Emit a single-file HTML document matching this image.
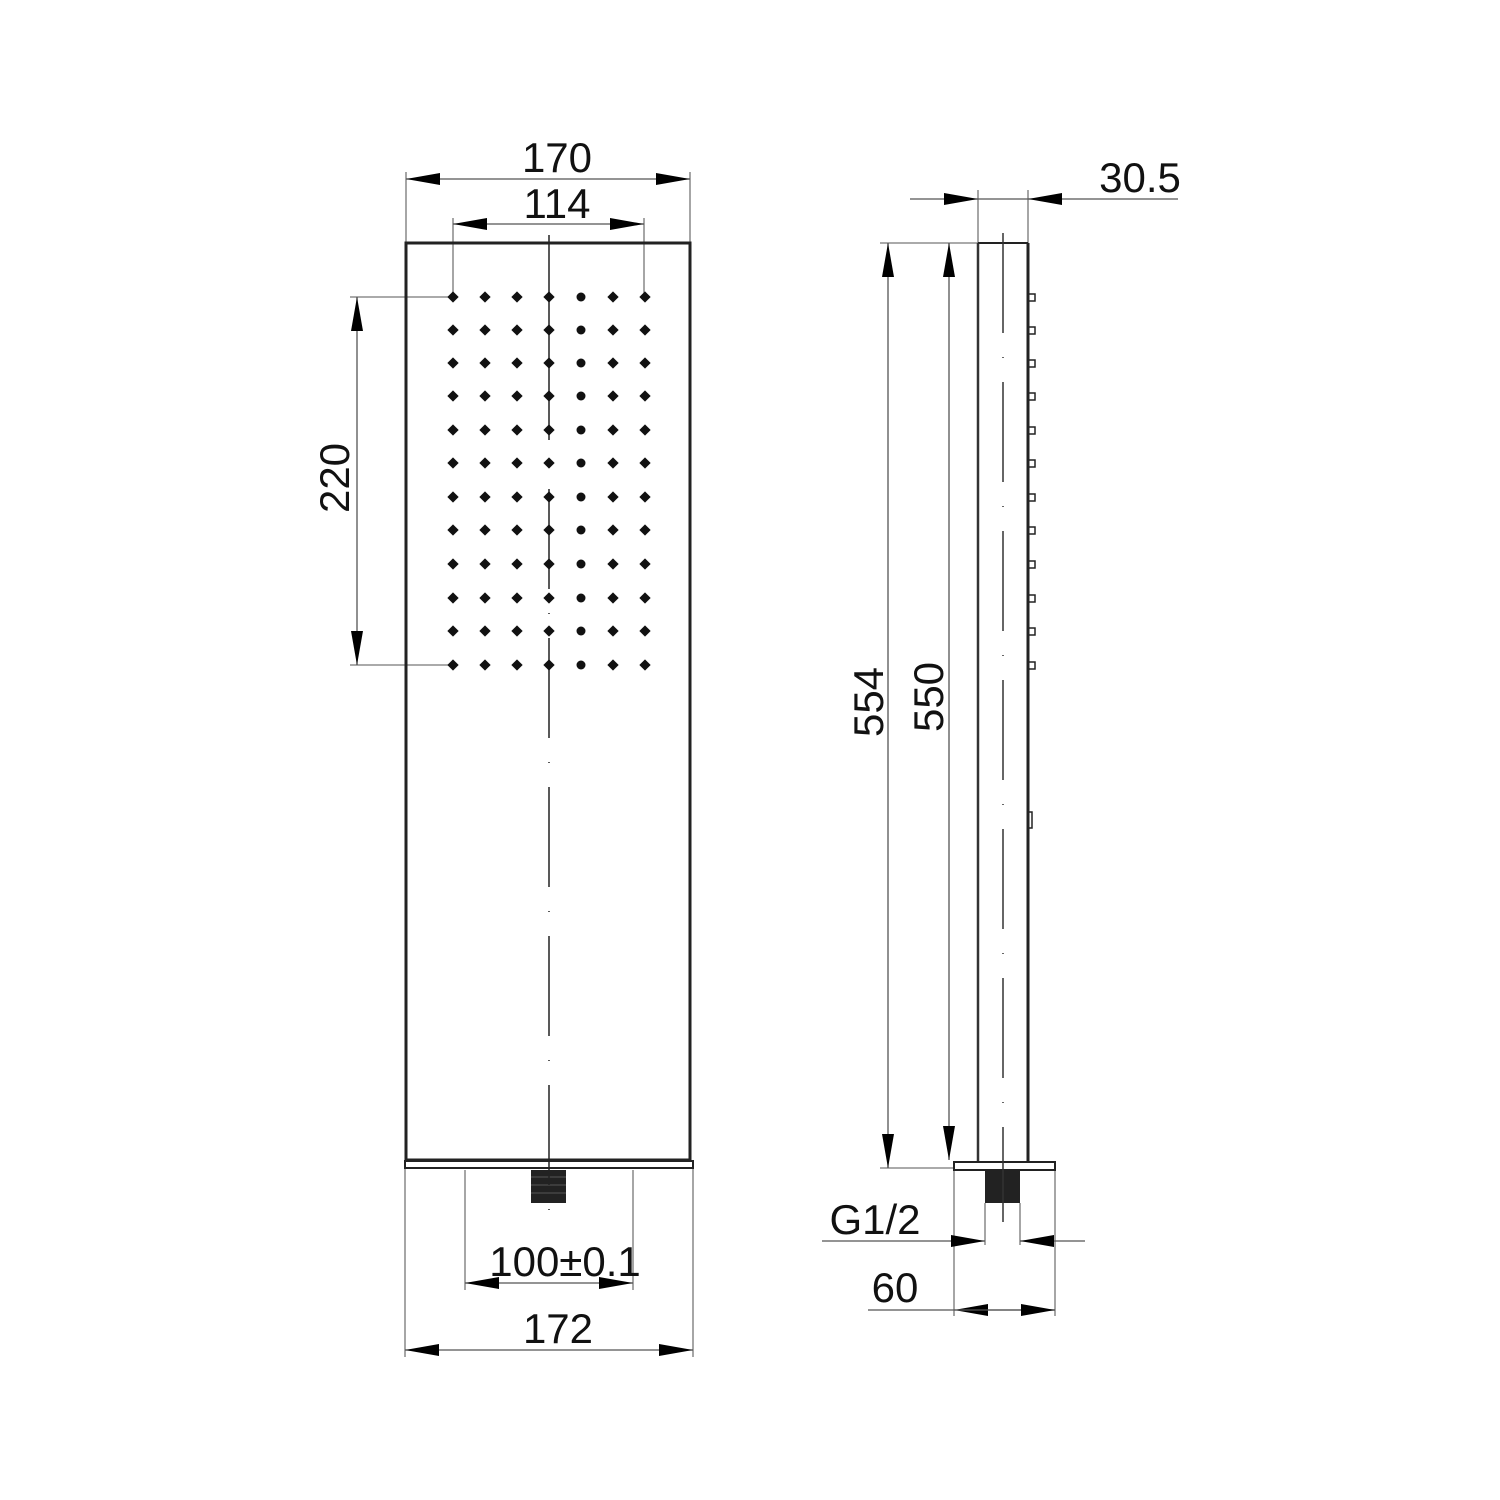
<!DOCTYPE html>
<html><head><style>html,body{margin:0;padding:0;background:#fff}svg{display:block}</style></head><body>
<svg width="1500" height="1500" viewBox="0 0 1500 1500" xmlns="http://www.w3.org/2000/svg" font-family="Liberation Sans, sans-serif" font-size="42">
<defs>
<marker id="a" viewBox="0 0 34 12" refX="34" refY="6" markerWidth="34" markerHeight="12" markerUnits="userSpaceOnUse" orient="auto-start-reverse"><path d="M0,0 L34,6 L0,12 Z" fill="#000"/></marker>
<g id="row">
<rect x="449" y="-4" width="8" height="8" transform="rotate(45 453 0)"/>
<rect x="481" y="-4" width="8" height="8" transform="rotate(45 485 0)"/>
<rect x="513" y="-4" width="8" height="8" transform="rotate(45 517 0)"/>
<rect x="545" y="-4" width="8" height="8" transform="rotate(45 549 0)"/>
<circle cx="581" cy="0" r="4.5"/>
<rect x="609" y="-4" width="8" height="8" transform="rotate(45 613 0)"/>
<rect x="641" y="-4" width="8" height="8" transform="rotate(45 645 0)"/>
</g>
</defs>
<rect width="1500" height="1500" fill="#fff"/>
<g stroke="#777" stroke-width="1.3" fill="none">
<line x1="406" y1="172" x2="406" y2="243"/><line x1="690" y1="172" x2="690" y2="243"/>
<line x1="453" y1="218" x2="453" y2="297"/><line x1="644" y1="218" x2="644" y2="297"/>
<line x1="350" y1="297" x2="453" y2="297"/><line x1="350" y1="665" x2="453" y2="665"/>
<line x1="465" y1="1170" x2="465" y2="1290"/><line x1="633" y1="1170" x2="633" y2="1290"/>
<line x1="405" y1="1168" x2="405" y2="1357"/><line x1="693" y1="1168" x2="693" y2="1357"/>
<line x1="978" y1="190" x2="978" y2="243"/><line x1="1028" y1="190" x2="1028" y2="243"/>
<line x1="880" y1="243" x2="978" y2="243"/><line x1="880" y1="1168" x2="955" y2="1168"/>
<line x1="954" y1="1170" x2="954" y2="1316"/><line x1="1055" y1="1170" x2="1055" y2="1316"/>
<line x1="985" y1="1203" x2="985" y2="1245"/><line x1="1020" y1="1203" x2="1020" y2="1245"/>
</g>
<g stroke="#555" stroke-width="1.3" fill="none">
<line x1="406" y1="179" x2="690" y2="179" marker-start="url(#a)" marker-end="url(#a)"/>
<line x1="453" y1="224" x2="644" y2="224" marker-start="url(#a)" marker-end="url(#a)"/>
<line x1="357" y1="297" x2="357" y2="665" marker-start="url(#a)" marker-end="url(#a)"/>
<line x1="465" y1="1283" x2="633" y2="1283" marker-start="url(#a)" marker-end="url(#a)"/>
<line x1="405" y1="1350" x2="693" y2="1350" marker-start="url(#a)" marker-end="url(#a)"/>
<line x1="888" y1="243" x2="888" y2="1168" marker-start="url(#a)" marker-end="url(#a)"/>
<line x1="949" y1="243" x2="949" y2="1160" marker-start="url(#a)" marker-end="url(#a)"/>
<line x1="910" y1="199" x2="978" y2="199" marker-end="url(#a)"/>
<line x1="1178" y1="199" x2="1028" y2="199" marker-end="url(#a)"/>
<line x1="978" y1="199" x2="1028" y2="199"/>
<line x1="822" y1="1241" x2="985" y2="1241" marker-end="url(#a)"/>
<line x1="1085" y1="1241" x2="1020" y2="1241" marker-end="url(#a)"/>
<line x1="868" y1="1310" x2="954" y2="1310"/>
<line x1="1055" y1="1310" x2="954" y2="1310" marker-end="url(#a)"/>
<line x1="954" y1="1310" x2="1055" y2="1310" marker-end="url(#a)"/>
</g>
<rect x="406" y="243" width="284" height="917" fill="none" stroke="#222" stroke-width="3"/>
<rect x="405" y="1161" width="288" height="7" fill="none" stroke="#222" stroke-width="2"/>
<rect x="531" y="1170" width="35" height="33" fill="#222"/>
<g stroke="#555" stroke-width="1"><line x1="531" y1="1177" x2="566" y2="1177"/><line x1="531" y1="1185" x2="566" y2="1185"/><line x1="531" y1="1193" x2="566" y2="1193"/></g>
<line x1="549" y1="235" x2="549" y2="1222" stroke="#222" stroke-width="1.5" stroke-dasharray="205 24 1 24 100 24 1 24 100 24 1 24 100 24 1 24 100 24 1 24 100 24 1 24 100 24 1 24 100 24 1 24 100 24 1 24 100 24 1 24"/>
<g fill="#111">
<use href="#row" y="297"/><use href="#row" y="330"/><use href="#row" y="363"/><use href="#row" y="396"/><use href="#row" y="430"/><use href="#row" y="463"/><use href="#row" y="497"/><use href="#row" y="530"/><use href="#row" y="564"/><use href="#row" y="598"/><use href="#row" y="631"/><use href="#row" y="665"/>
</g>
<line x1="978" y1="243" x2="978" y2="1162" stroke="#333" stroke-width="2.5"/>
<line x1="1028" y1="243" x2="1028" y2="1162" stroke="#222" stroke-width="3"/>
<line x1="978" y1="243" x2="1028" y2="243" stroke="#222" stroke-width="2"/>
<rect x="954" y="1162" width="101" height="8" fill="none" stroke="#222" stroke-width="2"/>
<rect x="985" y="1170" width="35" height="33" fill="#222"/>
<line x1="1003" y1="233" x2="1003" y2="1222" stroke="#333" stroke-width="1.5" stroke-dasharray="100 24 1 24"/>
<g fill="none" stroke="#222" stroke-width="1.5">
<rect x="1028" y="294" width="7" height="7"/><rect x="1028" y="327" width="7" height="7"/><rect x="1028" y="360" width="7" height="7"/><rect x="1028" y="393" width="7" height="7"/><rect x="1028" y="427" width="7" height="7"/><rect x="1028" y="460" width="7" height="7"/><rect x="1028" y="494" width="7" height="7"/><rect x="1028" y="527" width="7" height="7"/><rect x="1028" y="561" width="7" height="7"/><rect x="1028" y="595" width="7" height="7"/><rect x="1028" y="628" width="7" height="7"/><rect x="1028" y="662" width="7" height="7"/>
<rect x="1028" y="812" width="4" height="16"/>
</g>
<g fill="#111" text-anchor="middle">
<text x="557" y="172">170</text>
<text x="557" y="218">114</text>
<text x="565" y="1276">100±0.1</text>
<text x="558" y="1343">172</text>
<text x="1140" y="192">30.5</text>
<text x="875" y="1234">G1/2</text>
<text x="895" y="1302">60</text>
<text transform="translate(349 478) rotate(-90)">220</text>
<text transform="translate(883 702) rotate(-90)">554</text>
<text transform="translate(943 697) rotate(-90)">550</text>
</g>
</svg>
</body></html>
